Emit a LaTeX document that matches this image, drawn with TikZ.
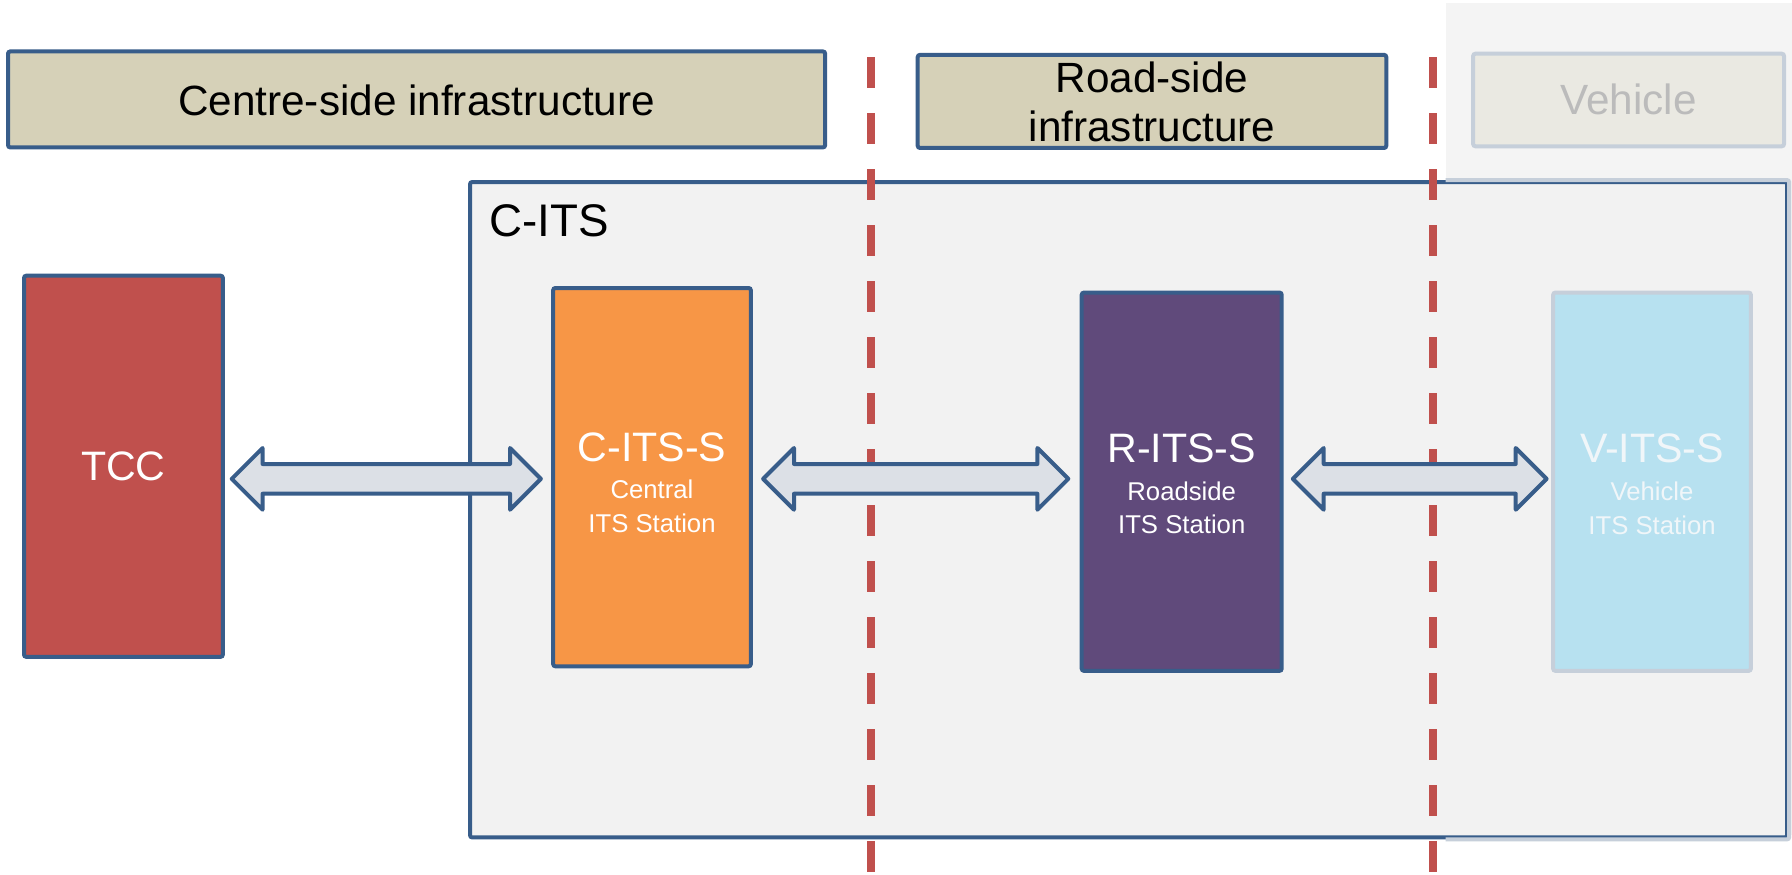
\documentclass[tikz,border=0pt]{standalone}
\usepackage{fontspec}
\setmainfont{Liberation Sans}
\usetikzlibrary{calc}
\definecolor{bordblue}{HTML}{385D8A}
\definecolor{tanfill}{HTML}{D6D1B8}
\definecolor{tccred}{HTML}{C0504D}
\definecolor{citsorange}{HTML}{F79646}
\definecolor{ritspurple}{HTML}{604A7B}
\definecolor{vitsblue}{HTML}{B7E1F0}
\definecolor{citsbg}{HTML}{F2F2F2}
\definecolor{vehbg}{HTML}{F4F4F4}
\definecolor{fadeborder}{HTML}{C6CFDA}
\definecolor{vehlabelfill}{HTML}{EAE9E2}
\definecolor{vehtext}{HTML}{BBBBBB}
\definecolor{vitstext}{HTML}{F0F6F9}
\definecolor{arrowfill}{HTML}{DCE0E6}
\definecolor{dashred}{HTML}{C0504D}
\newcommand\blockarrow[2]{%
  \draw[blockarr] (#1) -- ($(#1)+(27,-27)$) -- ($(#1)+(27,-13)$) -- ($(#2)+(-27,-13)$) -- ($(#2)+(-27,-27)$) -- (#2) -- ($(#2)+(-27,27)$) -- ($(#2)+(-27,13)$) -- ($(#1)+(27,13)$) -- ($(#1)+(27,27)$) -- cycle;}
\begin{document}
\begin{tikzpicture}[x=1pt,y=-1pt,
  box/.style={draw=bordblue, line width=3.5pt, rounded corners=2pt, inner sep=0pt},
  fadedbox/.style={draw=fadeborder, line width=3.5pt, rounded corners=2pt, inner sep=0pt},
  toptxt/.style={font=\fontsize{37}{44}\selectfont, text=black, inner sep=0pt, anchor=base},
  bigtxt/.style={font=\fontsize{36}{42}\selectfont, text=white, inner sep=0pt, anchor=base},
  smalltxt/.style={font=\fontsize{22.5}{27}\selectfont, text=white, inner sep=0pt, anchor=base},
  blockarr/.style={draw=bordblue, fill=arrowfill, line width=3.5pt, line join=round},
  divider/.style={draw=dashred, line width=6.5pt, dash pattern=on 27pt off 22pt}
]
\useasboundingbox (0,0) rectangle (1568,765);
\fill[white] (0,0) rectangle (1568,765);
\fill[vehbg] (1265,3) rectangle (1568,731);

% C-ITS container
\node[box, fill=citsbg, minimum width=1152.5, minimum height=573.5, anchor=north west] (cits) at (409.5,157.5) {};
\coordinate (vx) at (1265,0);
\draw[fadeborder, line width=3.5pt, rounded corners=2pt] (cits.north -| vx) -- (cits.north east) -- (cits.south east) -- (cits.south -| vx);
\node[font=\fontsize{40}{48}\selectfont, anchor=base west, inner sep=0pt] (citslbl) at (428,207) {C-ITS};

% top labels
\node[box, fill=tanfill, minimum width=715, minimum height=84] (centre) at (364.5,87) {};
\node[toptxt] (centretxt) at (364.5,101) {Centre-side infrastructure};
\node[box, fill=tanfill, minimum width=410, minimum height=81.5] (road) at (1008,88.75) {};
\node[toptxt] (roadtxta) at (1008,81) {Road-side};
\node[toptxt] (roadtxtb) at (1008,124) {infrastructure};
\node[fadedbox, fill=vehlabelfill, minimum width=272, minimum height=81] (veh) at (1425,87.5) {};
\node[toptxt, text=vehtext] (vehtxt) at (1425,100.5) {Vehicle};

% dividers
\draw[divider] (762,50) -- (762,765);
\draw[divider] (1254,50) -- (1254,765);

% stations
\node[box, fill=tccred, minimum width=174, minimum height=333.5, text=white, font=\fontsize{36}{42}\selectfont] (tcc) at (108,408) {TCC};
\node[box, fill=citsorange, minimum width=173, minimum height=331] (cs) at (570.5,417.5) {};
\node[bigtxt] (cst) at (570.5,404) {C-ITS-S};
\node[smalltxt] (csa) at (570.5,436) {Central};
\node[smalltxt] (csb) at (570.5,466) {ITS Station};
\node[box, fill=ritspurple, minimum width=175, minimum height=331] (rs) at (1034,421.5) {};
\node[bigtxt] (rst) at (1034,405) {R-ITS-S};
\node[smalltxt] (rsa) at (1034,437.5) {Roadside};
\node[smalltxt] (rsb) at (1034,467) {ITS Station};
\node[fadedbox, fill=vitsblue, minimum width=173, minimum height=331] (vs) at (1445.5,421.5) {};
\node[bigtxt, text=vitstext] (vst) at (1445.5,405) {V-ITS-S};
\node[smalltxt, text=vitstext] (vsa) at (1445.5,437.5) {Vehicle};
\node[smalltxt, text=vitstext] (vsb) at (1445.5,468) {ITS Station};

% arrows
\coordinate (ay) at (0,419);
\coordinate (a1l) at ($(tcc.east |- ay)+(6,0)$);
\coordinate (a1r) at ($(cs.west |- ay)+(-9,0)$);
\coordinate (a2l) at ($(cs.east |- ay)+(9,0)$);
\coordinate (a2r) at ($(rs.west |- ay)+(-10,0)$);
\coordinate (a3l) at ($(rs.east |- ay)+(8,0)$);
\coordinate (a3r) at ($(vs.west |- ay)+(-4,0)$);
\blockarrow{a1l}{a1r}
\blockarrow{a2l}{a2r}
\blockarrow{a3l}{a3r}
\end{tikzpicture}
\end{document}
